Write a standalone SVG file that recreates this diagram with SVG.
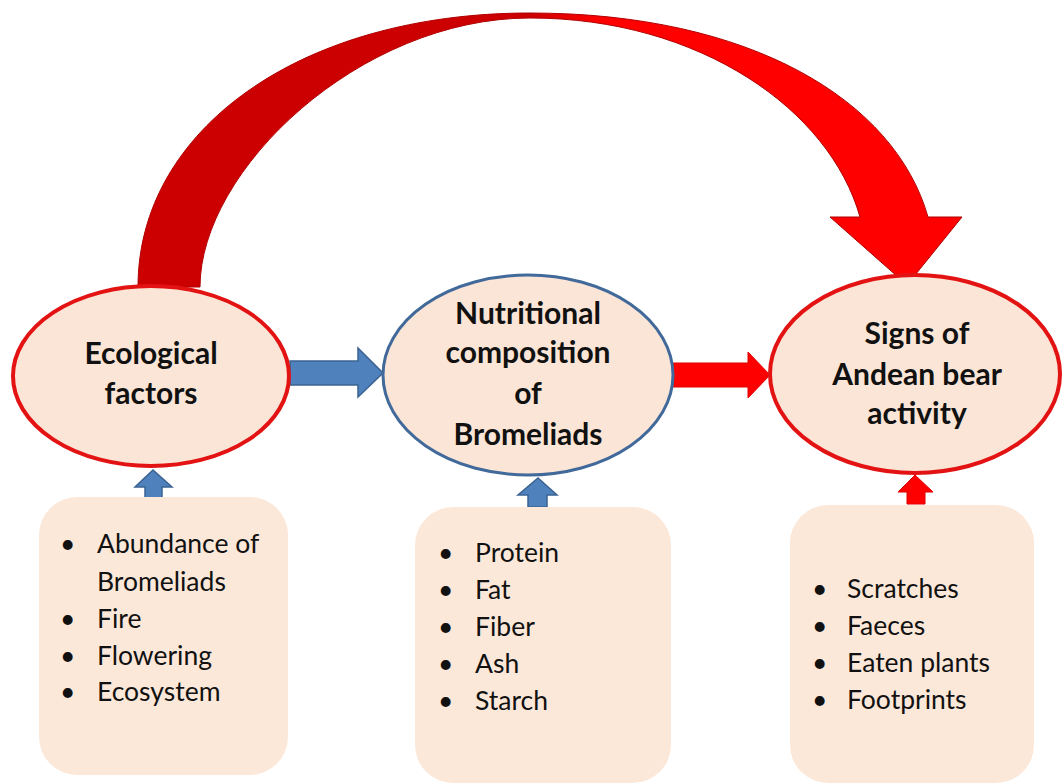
<svg xmlns="http://www.w3.org/2000/svg" width="1063" height="783" viewBox="0 0 1063 783">
<defs>
<style>
.ell{fill:#fbe5d6;}
.red{stroke:#e31313;stroke-width:4;}
.blu{stroke:#41699a;stroke-width:3;}
.box{fill:#fce8d9;}
.t{font-family:Lato,"Open Sans",sans-serif;font-weight:bold;font-size:30px;fill:#111;text-anchor:middle;}
.l{font-family:Lato,"Open Sans",sans-serif;font-size:26.5px;fill:#111;}
.barrow{fill:#4f81bd;stroke:#3a6391;stroke-width:1.5;}
.rarrow{fill:#ff0000;stroke:#e00000;stroke-width:1;}
</style>
<linearGradient id="arc" gradientUnits="userSpaceOnUse" x1="133" y1="0" x2="962" y2="0">
<stop offset="0" stop-color="#cc0000"/>
<stop offset="0.48" stop-color="#cc0000"/>
<stop offset="0.56" stop-color="#ff0000"/>
<stop offset="1" stop-color="#ff0000"/>
</linearGradient>
</defs>
<rect width="1063" height="783" fill="#fff"/>
<g id="connectors">
<path id="curved-arrow" d="M138 287 C138 130 300 13 530 13 C750 13 895 100 928 217 L962 217 L907 285 L830 217 L860 217 C830 110 700 18 530 18 C360 18 200 170 200 287 Z" fill="url(#arc)" stroke="#b00000" stroke-width="1"/>
<path class="barrow" d="M290 361 L358 361 L358 348 L383 373 L358 397 L358 385 L290 385 Z"/>
<path class="rarrow" d="M673 363 L748 363 L748 352 L770 375 L748 398 L748 387 L673 387 Z"/>
<path class="barrow" d="M145 498 L145 487 L135 487 L153 470 L172 487 L162 487 L162 498 Z"/>
<path class="barrow" d="M528 507 L528 495 L518 495 L538 478 L557 495 L547 495 L547 507 Z"/>
<path class="rarrow" d="M907 504 L907 492 L898 492 L915 475 L933 492 L925 492 L925 504 Z"/>
</g>
<g id="node-ecological">
<ellipse class="ell red" cx="151" cy="376" rx="138" ry="90"/>
<text class="t" x="151" y="364">Ecological</text>
<text class="t" x="151" y="404">factors</text>
</g>
<g id="node-nutritional">
<ellipse class="ell blu" cx="528" cy="375" rx="145" ry="100"/>
<text class="t" x="528" y="324">Nutritional</text>
<text class="t" x="528" y="363">composition</text>
<text class="t" x="528" y="404">of</text>
<text class="t" x="528" y="445">Bromeliads</text>
</g>
<g id="node-signs">
<ellipse class="ell red" cx="915" cy="374" rx="145" ry="99"/>
<text class="t" x="917" y="344">Signs of</text>
<text class="t" x="917" y="385">Andean bear</text>
<text class="t" x="917" y="424">activity</text>
</g>
<g id="box-ecological">
<rect class="box" x="39" y="497" width="249" height="278" rx="38"/>
<g class="l">
<text x="60" y="553">•</text><text x="97" y="553">Abundance of</text>
<text x="97" y="591">Bromeliads</text>
<text x="60" y="628">•</text><text x="97" y="628">Fire</text>
<text x="60" y="665">•</text><text x="97" y="665">Flowering</text>
<text x="60" y="701">•</text><text x="97" y="701">Ecosystem</text>
</g>
</g>
<g id="box-nutritional">
<rect class="box" x="415" y="507" width="256" height="276" rx="38"/>
<g class="l">
<text x="438" y="562">•</text><text x="475" y="562">Protein</text>
<text x="438" y="599">•</text><text x="475" y="599">Fat</text>
<text x="438" y="636">•</text><text x="475" y="636">Fiber</text>
<text x="438" y="673">•</text><text x="475" y="673">Ash</text>
<text x="438" y="710">•</text><text x="475" y="710">Starch</text>
</g>
</g>
<g id="box-signs">
<rect class="box" x="790" y="505" width="244" height="278" rx="38"/>
<g class="l">
<text x="812" y="598">•</text><text x="847" y="598">Scratches</text>
<text x="812" y="635">•</text><text x="847" y="635">Faeces</text>
<text x="812" y="672">•</text><text x="847" y="672">Eaten plants</text>
<text x="812" y="709">•</text><text x="847" y="709">Footprints</text>
</g>
</g>
</svg>
